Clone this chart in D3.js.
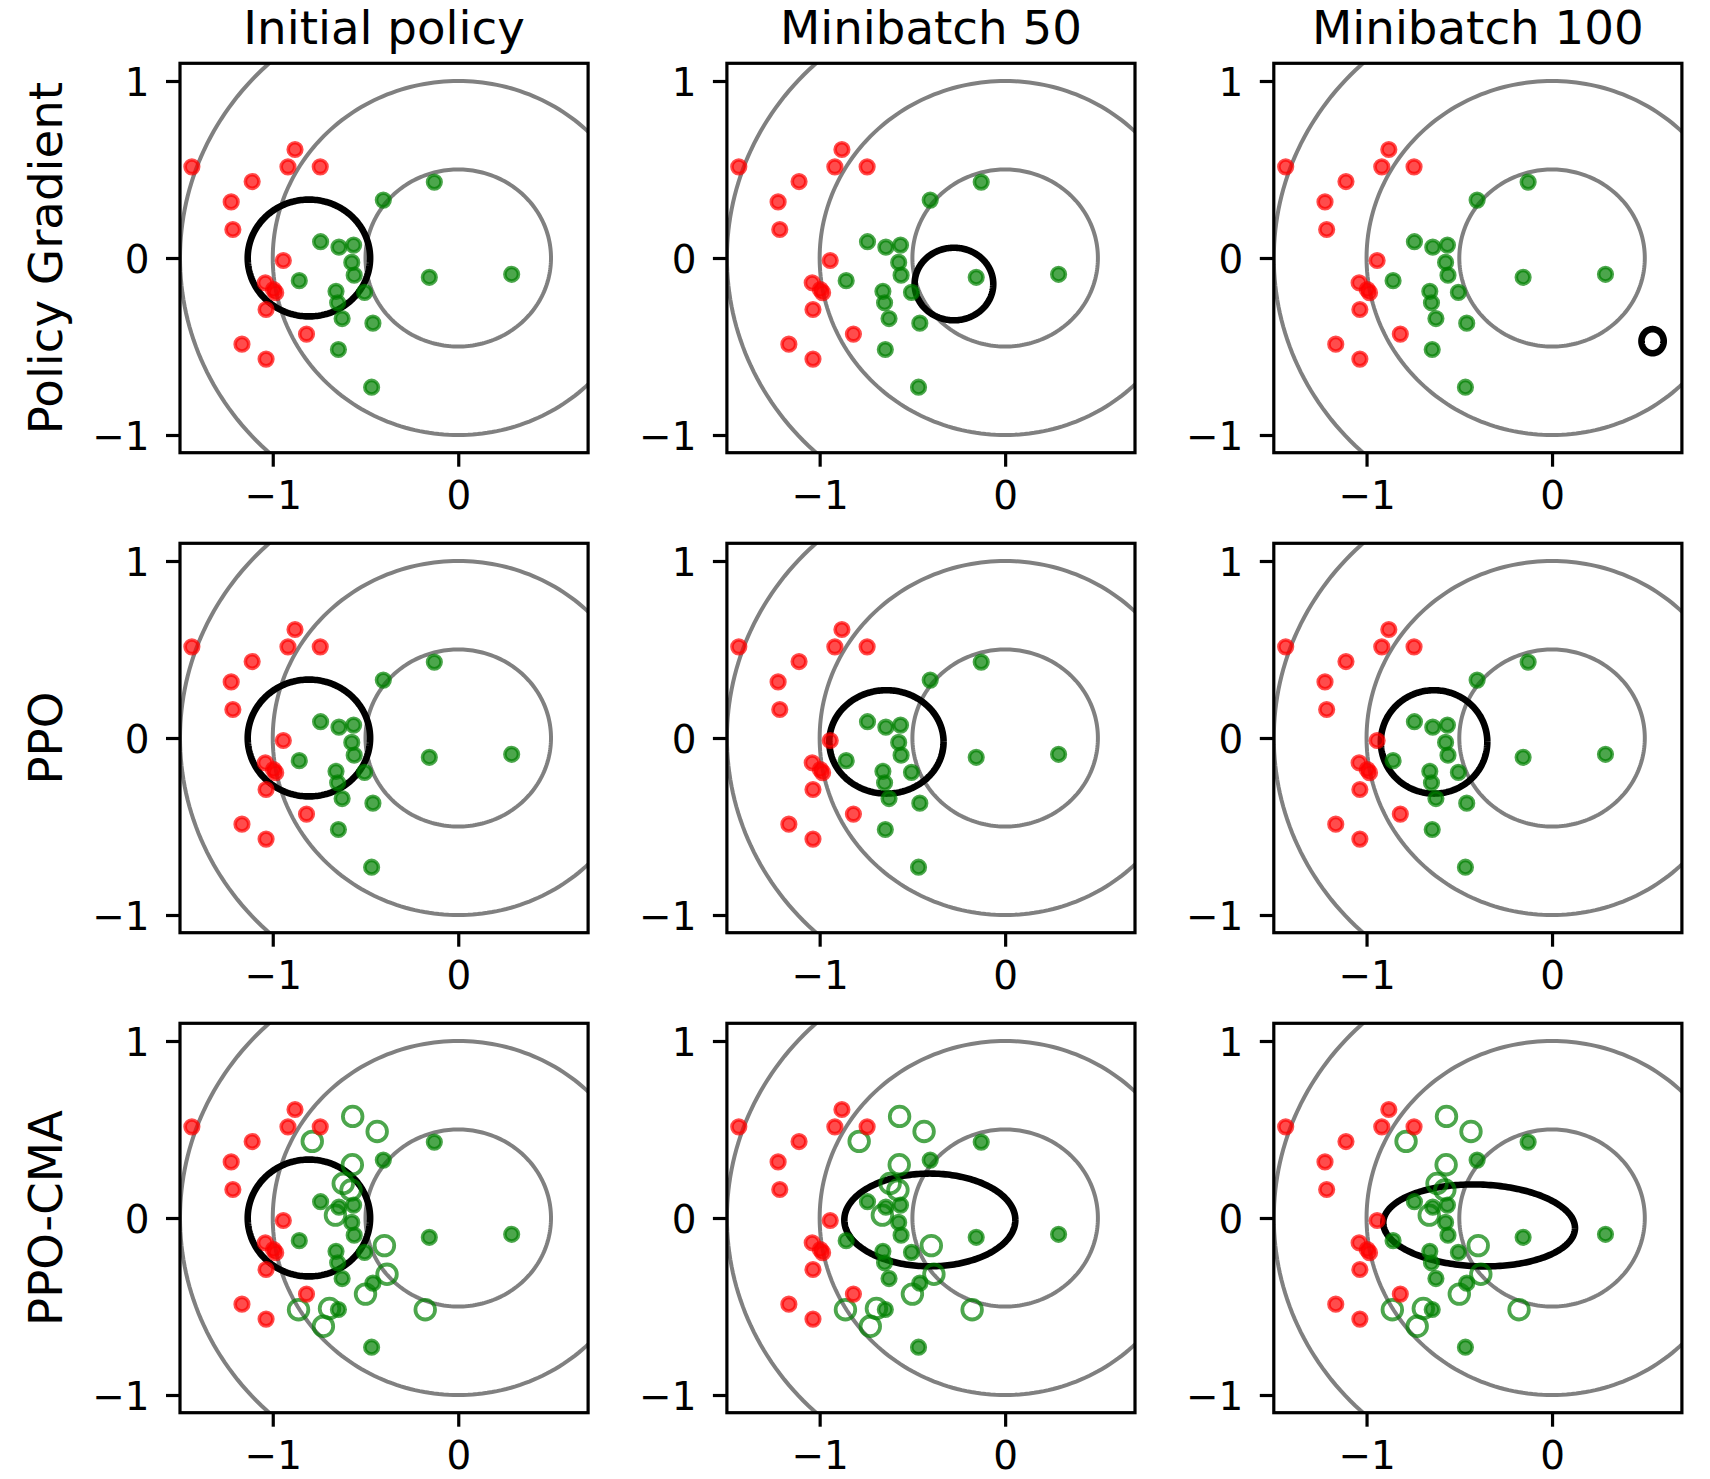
<!DOCTYPE html>
<html><head><meta charset="utf-8">
<script src="https://cdn.jsdelivr.net/npm/d3@7"></script>
<style>html,body{margin:0;padding:0;background:#fff;} svg{display:block;}</style>
</head><body><svg id="chart"></svg>
<script>
// ---------------- data ----------------
const columnTitles = ["Initial policy", "Minibatch 50", "Minibatch 100"];
const rowLabels = ["Policy Gradient", "PPO", "PPO-CMA"];
const xTicks = [-1, 0];
const yTicks = [-1, 0, 1];
const xDomain = [-1.5, 0.7];
const yDomain = [-1.1, 1.1];
const contourRadii = [0.5, 1.0, 1.5];

const redPoints = [
  [-1.436, 0.515], [-0.880, 0.613], [-0.918, 0.515], [-0.744, 0.515],
  [-1.111, 0.432], [-1.224, 0.317], [-1.215, 0.161], [-0.943, -0.014],
  [-1.040, -0.140], [-0.996, -0.178], [-0.984, -0.196], [-1.036, -0.291],
  [-0.818, -0.430], [-1.166, -0.487], [-1.036, -0.571]
];
const greenPoints = [
  [-0.404, 0.327], [-0.129, 0.429], [-0.742, 0.092], [-0.643, 0.061],
  [-0.564, 0.073], [-0.574, -0.025], [-0.561, -0.097], [-0.857, -0.128],
  [-0.659, -0.188], [-0.505, -0.194], [-0.650, -0.253], [-0.626, -0.342],
  [-0.460, -0.368], [-0.646, -0.517], [-0.467, -0.730], [-0.156, -0.109],
  [0.288, -0.092]
];
// hollow green samples, shown only in the PPO-CMA row
const openGreenPoints = [
  [-0.569, 0.574], [-0.437, 0.489], [-0.787, 0.433], [-0.571, 0.301],
  [-0.620, 0.195], [-0.578, 0.158], [-0.662, 0.016], [-0.398, -0.156],
  [-0.384, -0.318], [-0.500, -0.430], [-0.861, -0.518], [-0.694, -0.511],
  [-0.727, -0.612], [-0.178, -0.518]
];
const openRows = [false, false, true];
// policy ellipse per panel (row-major): [cx, cy, rx, ry, angleDeg]
const policyEllipses = [
  [-0.805, 0.000, 0.330, 0.330, 0], [-0.276, -0.147, 0.212, 0.205, 0], [0.542, -0.470, 0.060, 0.068, 0],
  [-0.805, 0.000, 0.330, 0.330, 0], [-0.640, -0.022, 0.308, 0.292, 0], [-0.636, -0.022, 0.287, 0.292, 0],
  [-0.805, 0.000, 0.330, 0.330, 0], [-0.406, -0.011, 0.461, 0.262, 0], [-0.393, -0.042, 0.517, 0.231, -2]
];

// ---------------- layout ----------------
const W = 1710, H = 1479;
const FONT = "DejaVu Sans";
const panelW = 408.1, panelH = 389.4;
const left0 = 180, colStep = 546.9;
const top0 = 63.3, rowStep = 480;
const titleSize = 46.7, tickSize = 38.9;

const svg = d3.select("#chart").attr("width", W).attr("height", H)
  .attr("viewBox", `0 0 ${W} ${H}`);
svg.append("rect").attr("width", W).attr("height", H).attr("fill", "#fff");
const defs = svg.append("defs");

function ellipsePts(cx, cy, rx, ry, angDeg) {
  const a = angDeg * Math.PI / 180, n = 240, pts = [];
  for (let i = 0; i <= n; i++) {
    const t = 2 * Math.PI * i / n;
    const ex = rx * Math.cos(t), ey = ry * Math.sin(t);
    pts.push([cx + ex * Math.cos(a) - ey * Math.sin(a), cy + ex * Math.sin(a) + ey * Math.cos(a)]);
  }
  return pts;
}

for (let r = 0; r < 3; r++) {
  for (let c = 0; c < 3; c++) {
    const L = left0 + c * colStep, T = top0 + r * rowStep;
    const x = d3.scaleLinear().domain(xDomain).range([L, L + panelW]);
    const y = d3.scaleLinear().domain(yDomain).range([T + panelH, T]);
    const line = d3.line().x(d => x(d[0])).y(d => y(d[1]));
    const id = `clip${r}${c}`;
    defs.append("clipPath").attr("id", id).append("rect")
      .attr("x", L).attr("y", T).attr("width", panelW).attr("height", panelH);
    const g = svg.append("g");
    const plot = g.append("g").attr("clip-path", `url(#${id})`);

    // reward contours
    plot.selectAll("path.contour").data(contourRadii).join("path")
      .attr("class", "contour")
      .attr("d", rad => line(ellipsePts(0, 0, rad, rad, 0)))
      .attr("fill", "none").attr("stroke", "#808080").attr("stroke-width", 4);

    // policy ellipse
    const e = policyEllipses[r * 3 + c];
    plot.append("path").attr("d", line(ellipsePts(e[0], e[1], e[2], e[3], e[4])))
      .attr("fill", "none").attr("stroke", "#000").attr("stroke-width", 6.6);

    // hollow samples
    if (openRows[r]) {
      plot.selectAll("circle.open").data(openGreenPoints).join("circle")
        .attr("class", "open")
        .attr("cx", d => x(d[0])).attr("cy", d => y(d[1])).attr("r", 9.8)
        .attr("fill", "none").attr("stroke", "#008000")
        .attr("stroke-opacity", 0.7).attr("stroke-width", 3.8);
    }
    // filled samples
    plot.selectAll("circle.red").data(redPoints).join("circle")
      .attr("class", "red")
      .attr("cx", d => x(d[0])).attr("cy", d => y(d[1])).attr("r", 6.8)
      .attr("fill", "#ff0000").attr("fill-opacity", 0.7)
      .attr("stroke", "#ff0000").attr("stroke-opacity", 0.7).attr("stroke-width", 3.6);
    plot.selectAll("circle.green").data(greenPoints).join("circle")
      .attr("class", "green")
      .attr("cx", d => x(d[0])).attr("cy", d => y(d[1])).attr("r", 6.8)
      .attr("fill", "#008000").attr("fill-opacity", 0.7)
      .attr("stroke", "#008000").attr("stroke-opacity", 0.7).attr("stroke-width", 3.6);

    // axes
    const ax = g.append("g").attr("transform", `translate(0,${T + panelH})`)
      .call(d3.axisBottom(x).tickValues(xTicks).tickSize(14).tickPadding(14.5).tickFormat(d3.format("d")));
    const ay = g.append("g").attr("transform", `translate(${L},0)`)
      .call(d3.axisLeft(y).tickValues(yTicks).tickSize(14).tickPadding(16.5).tickFormat(d3.format("d")));
    [ax, ay].forEach(a => {
      a.select(".domain").remove();
      a.selectAll(".tick line").attr("stroke", "#000").attr("stroke-width", 3.2);
      a.selectAll(".tick text").attr("fill", "#000")
        .style("font-family", FONT).style("font-size", tickSize + "px");
    });
    ay.selectAll(".tick text").attr("dy", "0.364em");

    // frame
    g.append("rect").attr("x", L).attr("y", T).attr("width", panelW).attr("height", panelH)
      .attr("fill", "none").attr("stroke", "#000").attr("stroke-width", 3.2);

    if (r === 0) {
      g.append("text").attr("x", L + panelW / 2).attr("y", 44)
        .attr("text-anchor", "middle").style("font-family", FONT)
        .style("font-size", titleSize + "px").attr("fill", "#000").text(columnTitles[c]);
    }
    if (c === 0) {
      const cy = T + panelH / 2;
      g.append("text").attr("transform", `translate(62,${cy}) rotate(-90)`)
        .attr("text-anchor", "middle").style("font-family", FONT)
        .style("font-size", titleSize + "px").attr("fill", "#000").text(rowLabels[r]);
    }
  }
}
</script>
</body></html>
